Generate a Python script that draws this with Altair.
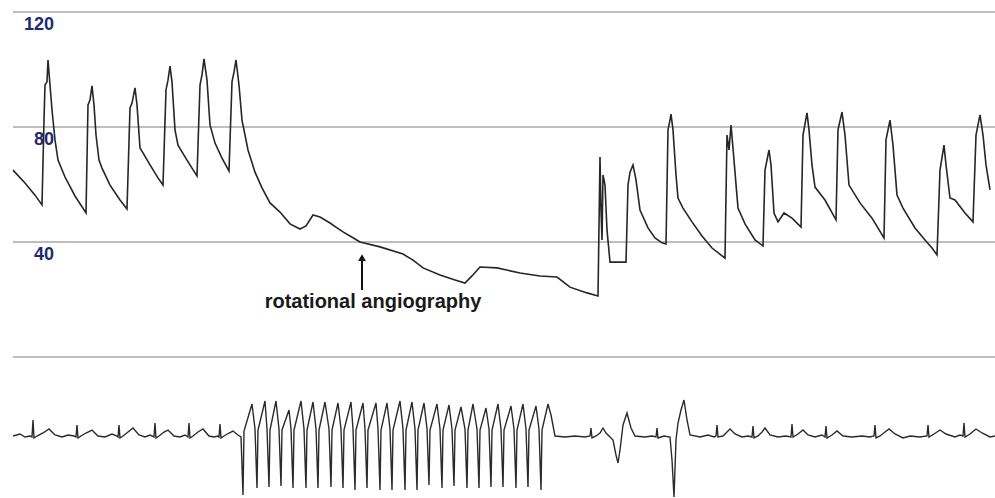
import altair as alt
import pandas as pd

# ---- Arterial pressure trace (time s, pressure mmHg) ----
pressure_before = [
    (0.26, 65.0), (0.50, 60.5), (0.70, 56.3), (0.84, 52.9), (0.88, 82.4), (0.90, 94.6), (0.94, 95.7),
    (0.96, 103.3), (1.00, 94.6), (1.04, 85.9), (1.10, 75.5), (1.16, 68.5), (1.30, 62.6), (1.50, 56.0),
    (1.72, 50.1), (1.76, 87.7), (1.80, 89.4), (1.84, 94.3), (1.88, 87.7), (1.92, 77.2), (1.98, 68.5),
    (2.04, 65.7), (2.20, 59.8), (2.40, 54.6), (2.54, 51.5), (2.60, 86.6), (2.64, 88.3), (2.70, 93.6),
    (2.74, 87.7), (2.80, 72.7), (2.86, 71.0), (3.00, 66.8), (3.16, 62.3), (3.26, 59.8), (3.32, 92.9),
    (3.36, 96.3), (3.40, 101.2), (3.44, 95.7), (3.50, 79.0), (3.56, 73.7), (3.70, 69.6), (3.84, 65.7),
    (3.94, 63.0), (4.00, 94.6), (4.04, 98.1), (4.08, 103.7), (4.14, 96.3), (4.20, 80.7), (4.30, 74.4),
    (4.44, 69.2), (4.58, 64.7), (4.64, 95.7), (4.68, 99.1), (4.72, 103.3), (4.78, 94.6), (4.84, 82.4),
]
pressure_during = [
    (4.96, 72.0), (5.10, 64.3), (5.24, 58.8), (5.40, 53.6), (5.60, 50.4), (5.80, 46.3), (6.00, 44.5),
    (6.12, 45.6), (6.26, 49.4), (6.40, 48.7), (6.60, 46.6), (6.74, 44.9), (6.86, 43.5), (7.00, 42.1),
    (7.20, 40.0), (7.60, 38.3), (8.06, 35.8), (8.26, 33.7), (8.46, 31.0), (8.80, 28.5), (9.10, 26.8),
    (9.30, 25.7), (9.44, 28.2), (9.60, 31.3), (9.94, 31.0), (10.40, 29.2), (10.80, 28.2), (11.14, 27.8),
    (11.40, 24.3), (11.74, 22.3), (11.96, 21.2),
]
pressure_after = [
    (12.00, 69.6), (12.02, 51.1), (12.04, 40.7), (12.06, 63.3), (12.10, 59.8), (12.14, 44.2),
    (12.20, 33.0), (12.36, 33.0), (12.52, 33.0), (12.56, 59.8), (12.60, 64.3), (12.66, 66.8),
    (12.72, 61.6), (12.80, 51.1), (12.96, 44.9), (13.10, 41.4), (13.24, 39.7), (13.32, 39.3),
    (13.36, 79.0), (13.40, 82.4), (13.42, 84.5), (13.46, 79.0), (13.52, 63.3), (13.56, 55.3),
    (13.66, 51.8), (13.84, 47.0), (14.04, 42.1), (14.24, 37.9), (14.50, 34.4), (14.54, 77.2),
    (14.58, 72.0), (14.62, 80.7), (14.68, 68.5), (14.76, 51.8), (14.90, 46.3), (15.10, 40.7),
    (15.26, 38.6), (15.30, 65.0), (15.38, 72.0), (15.42, 66.8), (15.48, 50.1), (15.56, 47.0),
    (15.68, 50.1), (15.84, 48.3), (16.02, 45.2), (16.06, 77.2), (16.14, 84.9), (16.18, 79.0),
    (16.24, 66.8), (16.30, 59.1), (16.50, 54.6), (16.72, 47.7), (16.76, 79.0), (16.84, 85.2),
    (16.90, 77.2), (16.98, 59.8), (17.20, 53.6), (17.44, 48.3), (17.68, 41.4), (17.72, 75.5),
    (17.80, 82.4), (17.86, 73.7), (17.94, 56.3), (18.06, 51.8), (18.30, 44.9), (18.50, 40.7),
    (18.64, 37.9), (18.74, 35.5), (18.80, 65.0), (18.88, 73.7), (18.92, 66.8), (19.00, 55.3),
    (19.10, 54.6), (19.30, 50.1), (19.46, 47.0), (19.52, 77.2), (19.60, 84.2), (19.66, 77.2),
    (19.72, 66.8), (19.80, 58.1),
]

# ---- ECG trace (time s, mV) ----
ecg_sinus_before = [
    (0.26, 0.0), (0.40, 0.04), (0.50, -0.02), (0.60, 0.0), (0.64, -0.02), (0.66, 0.32), (0.68, -0.04),
    (0.74, 0.0), (0.86, 0.06), (0.98, 0.14), (1.10, 0.02), (1.24, -0.02), (1.36, 0.02), (1.48, 0.0),
    (1.52, -0.02), (1.54, 0.22), (1.56, -0.04), (1.62, 0.0), (1.72, 0.06), (1.84, 0.12), (1.96, 0.0),
    (2.10, -0.02), (2.24, 0.04), (2.34, 0.0), (2.36, -0.02), (2.38, 0.22), (2.40, -0.04), (2.46, 0.0),
    (2.56, 0.08), (2.66, 0.16), (2.78, 0.02), (2.90, -0.02), (3.00, 0.02), (3.08, -0.02), (3.10, 0.26),
    (3.12, -0.04), (3.18, 0.0), (3.28, 0.08), (3.36, 0.12), (3.48, 0.0), (3.60, -0.02), (3.70, 0.02),
    (3.76, -0.02), (3.78, 0.26), (3.80, -0.04), (3.86, 0.0), (3.96, 0.08), (4.06, 0.14), (4.18, 0.0),
    (4.28, -0.02), (4.36, 0.0), (4.38, -0.02), (4.40, 0.24), (4.42, -0.04), (4.48, 0.0), (4.58, 0.06),
    (4.66, 0.10), (4.76, 0.02), (4.82, -0.02),
]
ecg_pacing = [
    (4.86, -1.18), (4.88, 0.10), (5.04, 0.64), (5.10, 0.14),
    (5.14, -1.04), (5.16, 0.12), (5.30, 0.70), (5.34, 0.14),
    (5.38, -1.02), (5.40, 0.12), (5.52, 0.70), (5.58, 0.14),
    (5.62, -1.00), (5.64, 0.12), (5.78, 0.52), (5.82, 0.14),
    (5.86, -1.04), (5.88, 0.12), (6.02, 0.70), (6.08, 0.14),
    (6.12, -1.04), (6.14, 0.12), (6.26, 0.68), (6.32, 0.14),
    (6.36, -1.04), (6.38, 0.12), (6.50, 0.68), (6.58, 0.14),
    (6.62, -1.02), (6.64, 0.12), (6.76, 0.66), (6.82, 0.14),
    (6.86, -1.04), (6.88, 0.12), (7.02, 0.68), (7.06, 0.14),
    (7.10, -1.08), (7.12, 0.12), (7.26, 0.66), (7.30, 0.14),
    (7.34, -1.04), (7.36, 0.12), (7.52, 0.66), (7.56, 0.14),
    (7.60, -1.08), (7.62, 0.12), (7.74, 0.66), (7.80, 0.14),
    (7.84, -1.08), (7.86, 0.12), (8.00, 0.70), (8.06, 0.14),
    (8.10, -1.08), (8.12, 0.12), (8.24, 0.68), (8.30, 0.14),
    (8.34, -1.08), (8.36, 0.12), (8.48, 0.66), (8.54, 0.14),
    (8.58, -0.98), (8.60, 0.12), (8.74, 0.64), (8.80, 0.14),
    (8.84, -1.04), (8.86, 0.12), (8.98, 0.62), (9.04, 0.14),
    (9.08, -1.00), (9.10, 0.12), (9.22, 0.58), (9.30, 0.14),
    (9.34, -1.04), (9.36, 0.12), (9.46, 0.64), (9.54, 0.14),
    (9.58, -1.04), (9.60, 0.12), (9.72, 0.56), (9.78, 0.14),
    (9.82, -1.02), (9.84, 0.12), (9.96, 0.64), (10.02, 0.14),
    (10.06, -1.02), (10.08, 0.12), (10.22, 0.60), (10.28, 0.14),
    (10.32, -1.04), (10.34, 0.12), (10.46, 0.64), (10.52, 0.14),
    (10.56, -1.02), (10.58, 0.12), (10.72, 0.60), (10.78, 0.14),
    (10.82, -1.08), (10.84, 0.12), (10.96, 0.64), (11.02, 0.42), (11.10, 0.0),
]
ecg_after = [
    (11.30, -0.02), (11.50, 0.0), (11.70, -0.02), (11.80, 0.0), (11.82, 0.16), (11.84, -0.04),
    (11.92, 0.0), (12.00, 0.06), (12.06, 0.16), (12.12, 0.06), (12.20, -0.02), (12.26, -0.08),
    (12.32, -0.38), (12.36, -0.54), (12.40, -0.28), (12.46, 0.22), (12.54, 0.46), (12.62, 0.16),
    (12.70, 0.0), (12.90, -0.02), (13.04, 0.0), (13.12, -0.02), (13.14, 0.16), (13.16, -0.04),
    (13.28, 0.0), (13.40, -0.02), (13.44, -0.48), (13.48, -1.22), (13.52, -0.08), (13.56, 0.26),
    (13.62, 0.52), (13.68, 0.72), (13.74, 0.32), (13.80, 0.02), (14.00, -0.02), (14.16, 0.02),
    (14.28, -0.02), (14.32, 0.0), (14.34, 0.22), (14.36, -0.02), (14.46, 0.0), (14.54, 0.08),
    (14.60, 0.14), (14.70, 0.04), (14.84, -0.02), (14.96, 0.0), (15.04, -0.02), (15.06, 0.20),
    (15.08, -0.04), (15.16, 0.0), (15.24, 0.08), (15.30, 0.16), (15.40, 0.02), (15.56, -0.02),
    (15.72, 0.0), (15.82, -0.02), (15.84, 0.24), (15.86, -0.02), (15.96, 0.04), (16.06, 0.12),
    (16.16, 0.02), (16.30, -0.02), (16.44, 0.02), (16.50, -0.02), (16.52, 0.20), (16.54, -0.04),
    (16.64, 0.02), (16.74, 0.10), (16.86, 0.0), (17.04, -0.02), (17.24, 0.0), (17.40, -0.02),
    (17.48, 0.0), (17.50, 0.22), (17.52, -0.04), (17.60, 0.0), (17.70, 0.08), (17.78, 0.14),
    (17.90, 0.04), (18.06, -0.04), (18.20, 0.0), (18.40, -0.02), (18.54, 0.0), (18.56, 0.22),
    (18.58, -0.02), (18.68, 0.04), (18.80, 0.12), (18.92, 0.04), (19.10, -0.02), (19.20, 0.02),
    (19.26, 0.0), (19.28, 0.26), (19.30, -0.02), (19.40, 0.04), (19.52, 0.14), (19.64, 0.06),
    (19.80, -0.02), (19.90, 0.0),
]

grid_levels = [120, 80, 40, 0]
label_levels = [120, 80, 40]
grid_t_start, grid_t_end = 0.26, 19.9

annotation_text = "rotational angiography"
annotation_t = 7.24               # time of rotational angiography (arrow)
annotation_arrow = (23.3, 34.4)   # arrow shaft from / to (mmHg)
annotation_head = 34.6
annotation_label_t, annotation_label_p = 7.46, 17.0

# ---- build tables ----
pressure = pd.DataFrame(pressure_before + pressure_during + pressure_after, columns=["t", "p"])
ecg = pd.DataFrame(ecg_sinus_before + ecg_pacing + ecg_after, columns=["t", "mv"])
grid = pd.DataFrame({"p": grid_levels, "t0": grid_t_start, "t1": grid_t_end})
labels = pd.DataFrame({"p": label_levels, "txt": [str(v) for v in label_levels]})
arrow = pd.DataFrame({"t": [annotation_t], "p0": [annotation_arrow[0]], "p1": [annotation_arrow[1]],
                      "ph": [annotation_head]})
note = pd.DataFrame({"t": [annotation_label_t], "p": [annotation_label_p], "txt": [annotation_text]})

xs = alt.Scale(domain=[0, 19.9], nice=False, zero=False)
ps = alt.Scale(domain=[-49.04, 124.17], nice=False, zero=False)
es = alt.Scale(domain=[-1.24, 8.72], nice=False, zero=False)

FONT = "Liberation Sans, Arial, sans-serif"

grid_layer = alt.Chart(grid).mark_rule(color="#a9a9a9", strokeWidth=1.5).encode(
    x=alt.X("t0:Q", scale=xs, axis=None), x2="t1:Q",
    y=alt.Y("p:Q", scale=ps, axis=None),
)
label_layer = alt.Chart(labels).mark_text(
    align="right", baseline="middle", dy=13, fontSize=18, fontWeight="bold", font=FONT, color="#1f2b70"
).encode(
    x=alt.value(54),
    y=alt.Y("p:Q", scale=ps, axis=None),
    text="txt:N",
)
pressure_layer = alt.Chart(pressure).mark_line(color="#262626", strokeWidth=1.6).encode(
    x=alt.X("t:Q", scale=xs, axis=None),
    y=alt.Y("p:Q", scale=ps, axis=None),
)
arrow_shaft = alt.Chart(arrow).mark_rule(color="#111111", strokeWidth=2).encode(
    x=alt.X("t:Q", scale=xs, axis=None),
    y=alt.Y("p0:Q", scale=ps, axis=None), y2="p1:Q",
)
arrow_head = alt.Chart(arrow).mark_point(
    shape="triangle-up", filled=True, color="#111111", size=60, opacity=1
).encode(
    x=alt.X("t:Q", scale=xs, axis=None),
    y=alt.Y("ph:Q", scale=ps, axis=None),
)
note_layer = alt.Chart(note).mark_text(
    align="center", baseline="alphabetic", fontSize=20, fontWeight="bold", font=FONT, color="#1a1a1a"
).encode(
    x=alt.X("t:Q", scale=xs, axis=None),
    y=alt.Y("p:Q", scale=ps, axis=None),
    text="txt:N",
)
ecg_layer = alt.Chart(ecg).mark_line(color="#2a2a2a", strokeWidth=1.4).encode(
    x=alt.X("t:Q", scale=xs, axis=None),
    y=alt.Y("mv:Q", scale=es, axis=None),
)

pressure_part = alt.layer(grid_layer, label_layer, pressure_layer, arrow_shaft, arrow_head, note_layer)

chart = alt.layer(pressure_part, ecg_layer).resolve_scale(y="independent").properties(
    width=995, height=498, padding=0, autosize=alt.AutoSizeParams(type="none"),
    background="white",
).configure_view(stroke=None)

chart.save("out.html", embed_options={"renderer": "svg", "actions": False})
